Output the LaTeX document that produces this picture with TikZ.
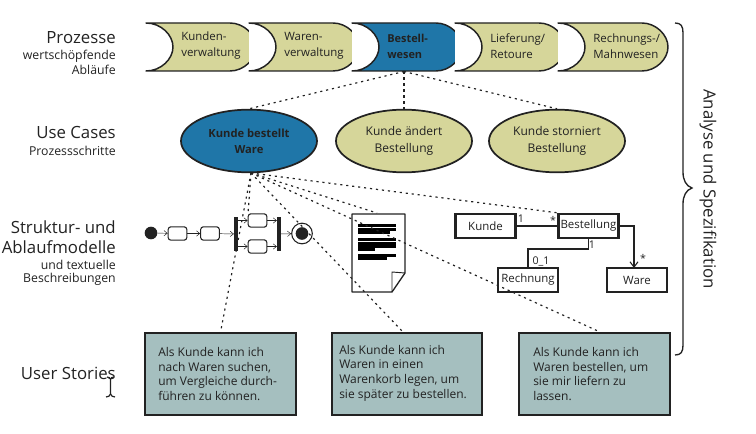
\documentclass[tikz,border=0pt]{standalone}
\usepackage{fontspec}
\setmainfont{Open Sans}
\usetikzlibrary{arrows.meta,shapes.geometric}
\definecolor{sand}{HTML}{D6D69A}
\definecolor{procblue}{HTML}{1F76A8}
\definecolor{story}{HTML}{A5BFBF}
\definecolor{ink}{HTML}{222222}
\tikzset{
  x=0.75pt,y=-0.75pt,
  proc/.style={draw=ink,line width=1.1pt,line join=round},
  proctext/.style={font=\fontsize{8.6}{12}\selectfont,align=left,anchor=west,text=ink,inner sep=0pt},
  case/.style={draw=ink,line width=1.3pt,ellipse,minimum width=102pt,minimum height=47pt,inner sep=0pt,align=center,font=\fontsize{9}{12.2}\selectfont,text=ink},
  link/.style={dash pattern=on 1.6pt off 2.9pt,line width=0.9pt,ink},
  head/.style={font=\fontsize{12.6}{15}\selectfont,anchor=east,text=ink,inner sep=0pt},
  sub/.style={font=\fontsize{9.2}{11}\selectfont,anchor=east,text=ink,inner sep=0pt},
  act/.style={draw=ink,line width=0.8pt,rounded corners=2pt,minimum width=14pt,minimum height=10pt,inner sep=0pt,fill=white},
  flow/.style={draw=ink,line width=0.35pt,-{Straight Barb[length=2.5pt,width=4pt]}},
  bar/.style={fill=ink,draw=none,minimum width=2.8pt,minimum height=25.5pt,inner sep=0pt},
  cls/.style={draw=ink,line width=1.8pt,minimum width=45pt,minimum height=18pt,inner sep=0pt,font=\fontsize{8.6}{10}\selectfont,fill=white,text=ink},
  mult/.style={font=\fontsize{8}{9}\selectfont,inner sep=0pt,text=ink},
  storybox/.style={draw=ink,line width=1.5pt,fill=story,minimum width=113pt,minimum height=61pt,inner sep=0pt},
  storytext/.style={font=\fontsize{9}{11}\selectfont,align=left,anchor=west,text=ink,inner sep=0pt},
  txtbar/.style={fill=black,draw=none},
}
\newcommand{\procshape}[5]{%
  \fill[white] (#1,23) .. controls (#1+15,23) and (#1+27,35) .. (#1+27,47) .. controls (#1+27,59) and (#1+15,71) .. (#1,71) -- cycle;
  \draw[proc,fill=#3] (#1,23) -- (#1+84,23) .. controls (#1+98,23) and (#1+110,35) .. (#1+110,47) .. controls (#1+110,59) and (#1+98,71) .. (#1+84,71) -- (#1,71) .. controls (#1+15,71) and (#1+27,59) .. (#1+27,47) .. controls (#1+27,35) and (#1+15,23) .. (#1,23) -- cycle;
  \node[proctext,#5] (#2) at (#1+35,46) {#4};
}
\begin{document}
\begin{tikzpicture}
\useasboundingbox (0,0) rectangle (756,434);
% process chain
\procshape{146}{kv}{sand}{Kunden-\\verwaltung}{}
\procshape{249}{wv}{sand}{Waren-\\verwaltung}{}
\procshape{352}{bw}{procblue}{Bestell-\\wesen}{font=\fontsize{8.2}{12}\selectfont\bfseries}
\procshape{455}{lr}{sand}{Lieferung/\\Retoure}{}
\procshape{558}{rm}{sand}{Rechnungs-/\\Mahnwesen}{}
\coordinate (bwb) at (404,71.5);
% use cases
\node[case,fill=procblue,font=\fontsize{8.4}{12.2}\selectfont\bfseries] (uc1) at (249,141) {Kunde bestellt\\Ware};
\node[case,fill=sand] (uc2) at (404,141) {Kunde ändert\\Bestellung};
\node[case,fill=sand] (uc3) at (557,141) {Kunde storniert\\Bestellung};
% activity
\node[circle,fill=ink,minimum size=9.5pt,inner sep=0pt] (start) at (151,233) {};
\node[act] (a1) at (177.5,233.5) {};
\node[act] (a2) at (210,233.5) {};
\node[bar] (fork) at (236,234) {};
\node[act] (a3) at (257.5,220.5) {};
\node[act] (a4) at (257.5,246.5) {};
\node[bar] (join) at (279,234) {};
\node[circle,draw=ink,line width=0.8pt,minimum size=15.5pt,inner sep=0pt,fill=white] (final) at (302,233.5) {};
\node[circle,fill=ink,minimum size=9.5pt,inner sep=0pt] (finalin) at (302,233.5) {};
\draw[flow] (start) -- (a1);
\draw[flow] (a1) -- (a2);
\draw[flow] (a2) -- (fork);
\draw[flow] (fork.east |- a3) -- (a3);
\draw[flow] (fork.east |- a4) -- (a4);
\draw[flow] (a3) -- (join.west |- a3);
\draw[flow] (a4) -- (join.west |- a4);
\draw[flow] (join) -- (final);
% document
\draw[ink,line width=1pt,fill=white,line join=round] (352,214) -- (405,214) -- (405,273) -- (392,292) -- (352,292) -- cycle;
\draw[ink,line width=0.7pt,line join=round] (405,273) -- (392,272) -- (392,292);
\fill[txtbar] (358,224) rectangle (396,227);
\fill[txtbar] (358,227.6) rectangle (396,230.6);
\fill[txtbar] (358,231.2) rectangle (390,234);
\fill[txtbar] (358,238) rectangle (396,241);
\fill[txtbar] (358,241.6) rectangle (396,244.6);
\fill[txtbar] (358,245.2) rectangle (396,248);
\fill[txtbar] (358,248.4) rectangle (375,251);
\fill[txtbar] (358,254) rectangle (396,257);
\fill[txtbar] (358,257.4) rectangle (387,260);
% class diagram
\node[cls] (kunde) at (485.5,226) {Kunde};
\node[cls] (best) at (588.5,226) {Bestellung};
\node[cls] (rech) at (528,280) {Rechnung};
\node[cls] (ware) at (637,280) {Ware};
\draw[ink,line width=2pt] (kunde) -- (best);
\draw[ink,line width=0.8pt] (best.south) |- (528,249) -- (rech.north);
\draw[ink,line width=0.8pt,-{Straight Barb[length=4pt,width=6pt]}] (best.east) -| (634,268);
\node[mult] (m1) at (521,219) {1};
\node[mult] (m2) at (553,220) {*};
\node[mult] (m3) at (592,245) {1};
\node[mult] (m4) at (541,261) {0\_1};
\node[mult] (m5) at (643,258.5) {*};
% stories
\node[storybox] (s1) at (220.5,374) {};
\node[storybox] (s2) at (407,374) {};
\node[storybox] (s3) at (594.5,374) {};
\node[storytext] (t1) at (158,374) {Als Kunde kann ich\\nach Waren suchen,\\um Vergleiche durch-\\führen zu können.};
\node[storytext] (t2) at (339,373) {Als Kunde kann ich\\Waren in einen\\Warenkorb legen, um\\sie später zu bestellen.};
\node[storytext] (t3) at (533,374) {Als Kunde kann ich\\Waren bestellen, um\\sie mir liefern zu\\lassen.};
% connectors
\draw[link] (bwb) -- (uc1.north);
\draw[link] (bwb) -- (uc2.north);
\draw[link] (bwb) -- (uc3.north);
\coordinate (ucb) at (251,173);
\coordinate (docc) at (377,213);
\coordinate (a3l) at (248,214);
\coordinate (s2t) at (403,332);
\coordinate (s3t) at (600,332);
\draw[link] (ucb) -- (s1.north);
\draw[link] (ucb) -- (a3l);
\draw[link] (ucb) -- (s2t);
\draw[link] (ucb) -- (s3t);
\draw[link] (ucb) -- (docc);
\draw[link] (ucb) -- (best.north west);
% left labels
\node[head] (l1) at (116,38) {Prozesse};
\node[sub] (l1s) at (116,56) {wertschöpfende};
\node[sub] (l1t) at (116,70) {Abläufe};
\node[head] (l2) at (116,133) {Use Cases};
\node[sub] (l2s) at (116,151) {Prozessschritte};
\node[head] (l3) at (116,227) {Struktur- und};
\node[head] (l3b) at (116,247) {Ablaufmodelle};
\node[sub] (l3s) at (116,265) {und textuelle};
\node[sub] (l3t) at (116,279) {Beschreibungen};
\node[head] (l4) at (116,373) {User Stories};
% cursor
\draw[ink,line width=0.9pt] (107,377) .. controls (109,377) and (110,378) .. (110.5,379) -- (110.5,394) .. controls (110,396) and (108,397) .. (106,397);
\draw[ink,line width=0.9pt] (114,377) .. controls (112,377) and (111,378) .. (110.5,379) (110.5,394) .. controls (111,396) and (113,397) .. (115,397);
% brace
\draw[ink,line width=1pt] (675,23) .. controls (681,23) and (683,26) .. (683,33) -- (683,172) .. controls (683,180) and (686,186) .. (692,188) .. controls (686,190) and (683,196) .. (683,204) -- (683,345) .. controls (683,352) and (681,355) .. (675,355);
\node[font=\fontsize{12.6}{14}\selectfont,rotate=-90,text=ink,inner sep=0pt] (an) at (708,189) {Analyse und Spezifikation};
\end{tikzpicture}
\end{document}
